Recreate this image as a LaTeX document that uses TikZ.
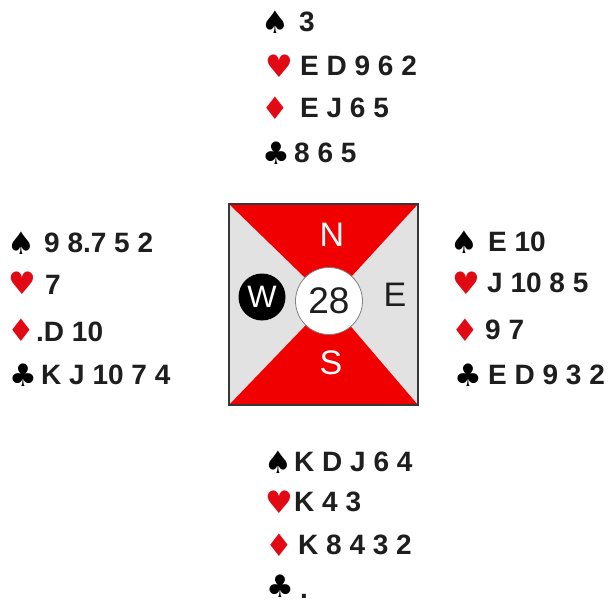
\documentclass[tikz,border=0pt]{standalone}
\usepackage{fontspec}
\setmainfont{Liberation Sans}
\newfontfamily\symfont{DejaVu Sans}
\definecolor{bred}{RGB}{240,0,0}
\definecolor{cred}{RGB}{225,10,20}
\definecolor{boxgray}{RGB}{226,226,226}
\definecolor{boxline}{RGB}{55,55,55}
\definecolor{ink}{RGB}{30,30,30}
\tikzset{
  hand/.style={anchor=west, inner sep=0pt, text=ink, font=\fontsize{28}{28}\selectfont\bfseries},
  suit/.style={inner sep=0pt, font=\symfont\fontsize{31}{31}\selectfont},
  blk/.style={suit, text=black},
  rd/.style={suit, text=cred},
  compass/.style={inner sep=0pt, font=\fontsize{34}{34}\selectfont}
}
\begin{document}
\begin{tikzpicture}[x=1pt,y=-1pt]
\useasboundingbox (0,0) rectangle (608,607);
% table
\coordinate (tl) at (229,204);
\coordinate (tr) at (418,204);
\coordinate (bl) at (229,405);
\coordinate (br) at (418,405);
\coordinate (c) at (329,301);
\fill[boxgray] (tl) rectangle (br);
\fill[bred] (tl) -- (tr) -- (c) -- cycle;
\fill[bred] (bl) -- (br) -- (c) -- cycle;
\draw[boxline, line width=1.6pt] (tl) rectangle (br);
\node[circle, draw=gray, line width=0.8pt, fill=white, minimum size=67pt, inner sep=0pt, text=ink, font=\fontsize{37}{37}\selectfont] (board) at (c) {28};
\node[circle, fill=black, minimum size=47pt, inner sep=0pt, text=white, font=\fontsize{31}{31}\selectfont] (w) at (262,297) {W};
\node[compass, text=white] (n) at (332,235) {N};
\node[compass, text=white] (s) at (331,363) {S};
\node[compass, text=ink] (e) at (395,295) {E};
% North
\node[blk] (ns) at (275,22) {♠};  \node[hand] (nst) at (299,22) {3};
\node[rd]  (nh) at (279,66) {♥};  \node[hand] (nht) at (300,66) {E D 9 6 2};
\node[rd]  (nd) at (275,108) {♦}; \node[hand] (ndt) at (300,108) {E J 6 5};
\node[blk] (nc) at (276,153) {♣}; \node[hand] (nct) at (294,153) {8 6 5};
% West
\node[blk] (ws) at (21,243) {♠};  \node[hand] (wst) at (44,243) {9 8.7 5 2};
\node[rd]  (wh) at (22,283) {♥};  \node[hand] (wht) at (45,285) {7};
\node[rd]  (wd) at (21,330) {♦};  \node[hand] (wdt) at (36,332) {.D 10};
\node[blk] (wc) at (23,375) {♣};  \node[hand] (wct) at (41,375) {K J 10 7 4};
% East
\node[blk] (es) at (464,242) {♠}; \node[hand] (est) at (488,242) {E 10};
\node[rd]  (eh) at (466,283) {♥}; \node[hand] (eht) at (487,283) {J 10 8 5};
\node[rd]  (ed) at (465,330) {♦}; \node[hand] (edt) at (485,330) {9 7};
\node[blk] (ec) at (468,375) {♣}; \node[hand] (ect) at (488,375) {E D 9 3 2};
% South
\node[blk] (ss) at (278,462) {♠}; \node[hand] (sst) at (294,462) {K D J 6 4};
\node[rd]  (sh) at (279,502) {♥}; \node[hand] (sht) at (294,502) {K 4 3};
\node[rd]  (sd) at (279,545) {♦}; \node[hand] (sdt) at (298,545) {K 8 4 3 2};
\node[blk] (sc) at (280,586) {♣}; \node[hand, anchor=base west] (sct) at (300,598) {.};
\end{tikzpicture}
\end{document}
